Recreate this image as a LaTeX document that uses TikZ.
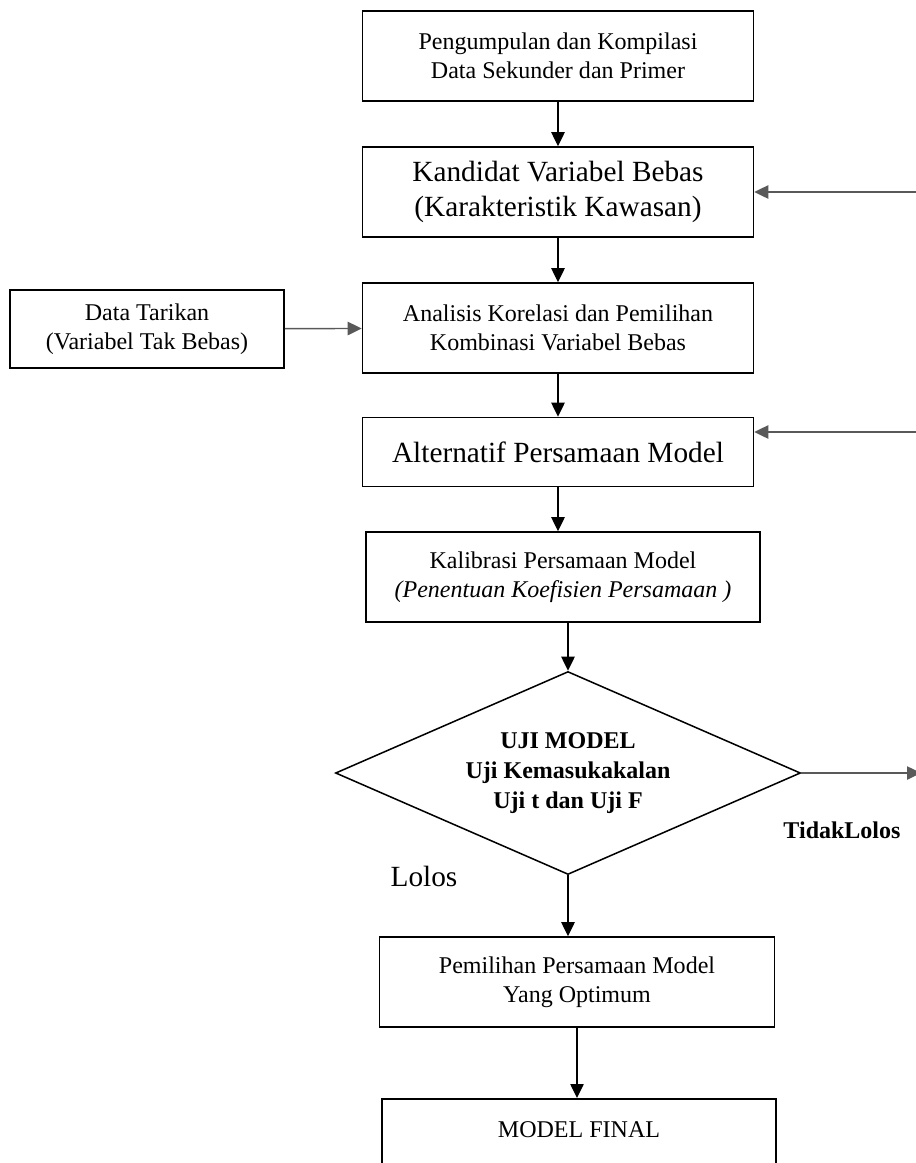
\documentclass[tikz,border=0pt]{standalone}
\usepackage{fontspec}
\setmainfont{Liberation Serif}
\usetikzlibrary{arrows.meta,shapes.geometric}

\begin{document}
\begin{tikzpicture}[x=0.03cm, y=-0.03cm,
  box/.style={draw, line width=1.3pt, minimum width=11.73cm, minimum height=2.7cm,
    align=center, inner sep=0pt, font=\fontsize{20.5}{25}\selectfont},
  big/.style={font=\fontsize{25}{30}\selectfont},
  arr/.style={-{Triangle[length=4.2mm,width=4mm]}, line width=1.2pt},
  side/.style={arr, draw=black!65}]
\useasboundingbox (0,0) rectangle (916,1163);
\clip (0,0) rectangle (916,1163);

\node[box] (kumpul) at (558,56) {Pengumpulan dan Kompilasi\\Data Sekunder dan Primer};
\node[box, big] (kandidat) at (558,192) {Kandidat Variabel Bebas\\(Karakteristik Kawasan)};
\node[box] (analisis) at (558,328) {Analisis Korelasi dan Pemilihan\\Kombinasi Variabel Bebas};
\node[box, minimum width=8.22cm, minimum height=2.34cm] (tarikan) at (147,329) {Data Tarikan\\(Variabel Tak Bebas)};
\node[box, big, minimum height=2.07cm] (altern) at (558,452) {Alternatif Persamaan Model};
\node[box, minimum width=11.82cm] (kalib) at (563,577) {Kalibrasi Persamaan Model\\\textit{(Penentuan Koefisien Persamaan )}};
\node[draw, diamond, aspect=2.3, line width=1.3pt, minimum width=13.95cm, minimum height=6.09cm,
  inner sep=0pt, align=center, font=\fontsize{20.5}{25.5}\selectfont\bfseries] (uji) at (568,773)
  {UJI MODEL\\Uji Kemasukakalan\\Uji t dan Uji F};
\node[box, minimum width=11.85cm] (pilih) at (577,982) {Pemilihan Persamaan Model\\Yang Optimum};
\node[box, anchor=north, minimum width=11.82cm] (final) at (579,1098) {MODEL FINAL\\~};

\node[big] (lolos) at (424,876) {Lolos};
\node[font=\fontsize{20.5}{25}\selectfont\bfseries] (tidak) at (842,830) {TidakLolos};

% free ends at the right edge
\coordinate (fbA) at (935,192);
\coordinate (fbB) at (935,432);
\coordinate (keluar) at (921,773);

\draw[arr] (kumpul) -- (kandidat);
\draw[arr] (kandidat) -- (analisis);
\draw[side] (tarikan) -- (analisis);
\draw[arr] (analisis) -- (altern);
\draw[arr] (altern.south) -- (altern.south |- kalib.north);
\draw[arr] (kalib.south -| uji.north) -- (uji.north);
\draw[arr] (uji.south) -- (uji.south |- pilih.north);
\draw[arr] (pilih.south) -- (pilih.south |- final.north);
\draw[side] (uji.east) -- (keluar);
\draw[side] (fbA) -- (kandidat.east);
\draw[side] (fbB) -- (fbB -| altern.east);
\end{tikzpicture}
\end{document}
